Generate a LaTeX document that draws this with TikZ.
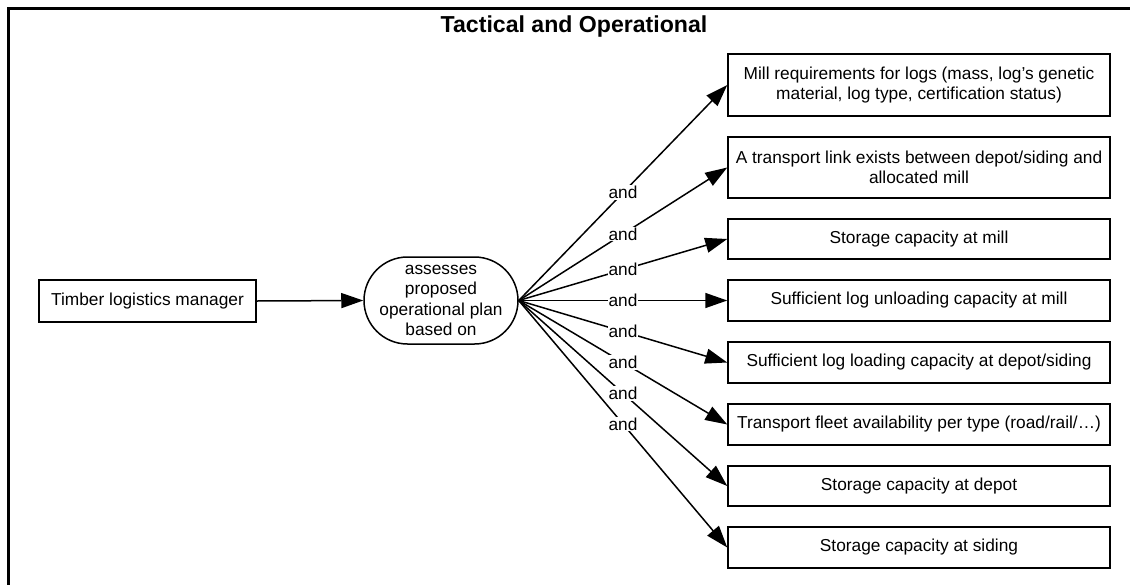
\documentclass[tikz,border=0pt]{standalone}
\usepackage{fontspec}
\setmainfont{Liberation Sans}
\usetikzlibrary{arrows.meta}
\begin{document}
\begin{tikzpicture}[x=1pt,y=-1pt,
  txt/.style={font=\fontsize{17.3}{20.5}\selectfont},
  box/.style={txt, draw, line width=1.5pt, align=center, inner sep=2pt},
  factor/.style={box, minimum width=382pt},
  hubnode/.style={txt, draw, line width=1.5pt, align=center, minimum width=154pt,
    minimum height=87pt, rounded corners=43.5pt, inner sep=0pt},
  arr/.style={line width=1.5pt, -{Triangle[length=22pt,width=15pt]}},
  andlbl/.style={txt, fill=white, inner sep=1pt, midway}
]
\useasboundingbox (0,0) rectangle (1130,584);
\clip (0,0) rectangle (1130,584);

% enclosing frame of the swimlane
\draw[line width=3pt] (8.5,600) -- (8.5,8.5) -- (1140,8.5);
\node[anchor=base, font=\fontsize{23.1}{26}\selectfont\bfseries] (title) at (574,32) {Tactical and Operational};

% actor and action
\node[box, minimum width=217pt, minimum height=42pt] (mgr) at (147.5,301) {Timber logistics manager};
\node[hubnode] (hub) at (441,300.5) {assesses\\proposed\\operational plan\\based on};

% assessment criteria
\node[factor, minimum height=62pt] (b1) at (919,85) {Mill requirements for logs (mass, log’s genetic\\material, log type, certification status)};
\node[factor, minimum height=61pt] (b2) at (919,167.5) {A transport link exists between depot/siding and\\allocated mill};
\node[factor, minimum height=40pt] (b3) at (919,239) {Storage capacity at mill};
\node[factor, minimum height=41pt] (b4) at (919,300.5) {Sufficient log unloading capacity at mill};
\node[factor, minimum height=41pt] (b5) at (919,362.5) {Sufficient log loading capacity at depot/siding};
\node[factor, minimum height=41pt] (b6) at (919,424.5) {Transport fleet availability per type (road/rail/…)};
\node[factor, minimum height=40pt] (b7) at (919,486) {Storage capacity at depot};
\node[factor, minimum height=41pt] (b8) at (919,547.5) {Storage capacity at siding};

% connectors
\draw[arr] (mgr.east) -- (hub.west);
\foreach \b in {b1,b2,b3,b4,b5,b6,b7,b8}
  \draw[arr] (hub.east) -- node[andlbl] {and} (\b.west);
\end{tikzpicture}
\end{document}
